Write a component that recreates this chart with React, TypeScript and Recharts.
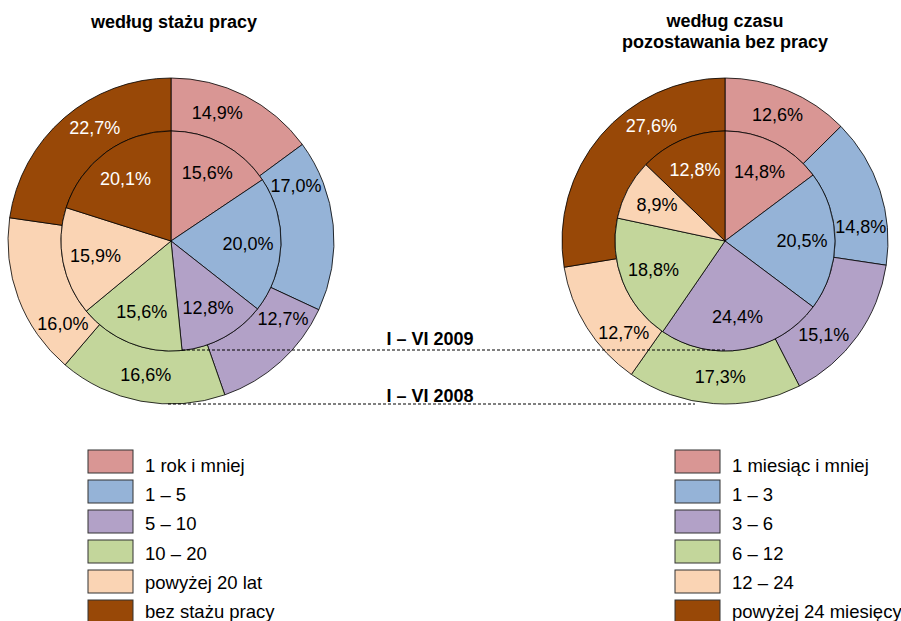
import { PieChart, Pie, Cell } from "recharts";

// categories
const stazCategories = ["1 rok i mniej", "1 – 5", "5 – 10", "10 – 20", "powyżej 20 lat", "bez stażu pracy"];
const czasCategories = ["1 miesiąc i mniej", "1 – 3", "3 – 6", "6 – 12", "12 – 24", "powyżej 24 miesięcy"];

// inner ring = I–VI 2009, outer ring = I–VI 2008
const staz2009 = [15.6, 20.0, 12.8, 15.6, 15.9, 20.1];
const staz2008 = [14.9, 17.0, 12.7, 16.6, 16.0, 22.7];
const czas2009 = [14.8, 20.5, 24.4, 18.8, 8.9, 12.8];
const czas2008 = [12.6, 14.8, 15.1, 17.3, 12.7, 27.6];

const colors = ["#D99694", "#95B3D7", "#B2A1C7", "#C3D69B", "#FAD4B4", "#984807"];

// "best fit" style nudges of outer-ring labels (degrees, clockwise)
const stazOuterShift = [-7, -18, -13, 0, -17, 7];
const czasOuterShift = [0, 12, 8, -2, -10, 17];

const FONT = "Arial, 'Liberation Sans', sans-serif";
const RAD = Math.PI / 180;

const toRows = (names: string[], values: number[]) =>
  names.map((name, i) => ({ name, value: values[i] }));

const fmt = (v: number) => v.toFixed(1).replace(".", ",") + "%";

function makeLabel(ring: "inner" | "outer", shift?: number[]) {
  return (props: any) => {
    const { cx, cy, midAngle, innerRadius, outerRadius, value, index } = props;
    const r = ring === "inner" ? outerRadius * 0.7 : (innerRadius + outerRadius) / 2;
    const a = midAngle - (shift ? shift[index] : 0);
    const x = cx + r * Math.cos(-a * RAD);
    const y = cy + r * Math.sin(-a * RAD);
    return (
      <text
        x={x}
        y={y}
        textAnchor="middle"
        dominantBaseline="central"
        fill={index === 5 ? "#ffffff" : "#000000"}
        fontSize={18}
        fontFamily={FONT}
      >
        {fmt(value)}
      </text>
    );
  };
}

function Legend({ x, items }: { x: number; items: string[] }) {
  return (
    <g>
      {items.map((name, i) => (
        <g key={name}>
          <rect x={x} y={450 + i * 30} width={45} height={23} fill={colors[i]} stroke="#333" strokeWidth={1} />
          <text x={x + 57} y={472 + i * 29.2} fontSize={18.5} fontFamily={FONT} fill="#000">
            {name}
          </text>
        </g>
      ))}
    </g>
  );
}

export default function App() {
  const left = { cx: 171, cy: 241 };
  const right = { cx: 725, cy: 241 };
  return (
    <div style={{ position: "relative", width: 901, height: 621, background: "#fff", overflow: "hidden" }}>
      <style>{`body{margin:0}`}</style>
      <div style={{ position: "absolute", left: 0, top: 0 }}>
        <PieChart width={901} height={621} margin={{ top: 0, right: 0, bottom: 0, left: 0 }}>
          <Pie
            data={toRows(stazCategories, staz2008)}
            dataKey="value"
            cx={left.cx}
            cy={left.cy}
            innerRadius={110}
            outerRadius={163}
            startAngle={90}
            endAngle={-270}
            stroke="#000"
            strokeWidth={0.8}
            label={makeLabel("outer", stazOuterShift)}
            labelLine={false}
            isAnimationActive={false}
          >
            {staz2008.map((_, i) => <Cell key={i} fill={colors[i]} />)}
          </Pie>
          <Pie
            data={toRows(stazCategories, staz2009)}
            dataKey="value"
            cx={left.cx}
            cy={left.cy}
            outerRadius={110}
            startAngle={90}
            endAngle={-270}
            stroke="#000"
            strokeWidth={0.8}
            label={makeLabel("inner")}
            labelLine={false}
            isAnimationActive={false}
          >
            {staz2009.map((_, i) => <Cell key={i} fill={colors[i]} />)}
          </Pie>
          <Pie
            data={toRows(czasCategories, czas2008)}
            dataKey="value"
            cx={right.cx}
            cy={right.cy}
            innerRadius={110}
            outerRadius={163}
            startAngle={90}
            endAngle={-270}
            stroke="#000"
            strokeWidth={0.8}
            label={makeLabel("outer", czasOuterShift)}
            labelLine={false}
            isAnimationActive={false}
          >
            {czas2008.map((_, i) => <Cell key={i} fill={colors[i]} />)}
          </Pie>
          <Pie
            data={toRows(czasCategories, czas2009)}
            dataKey="value"
            cx={right.cx}
            cy={right.cy}
            outerRadius={110}
            startAngle={90}
            endAngle={-270}
            stroke="#000"
            strokeWidth={0.8}
            label={makeLabel("inner")}
            labelLine={false}
            isAnimationActive={false}
          >
            {czas2009.map((_, i) => <Cell key={i} fill={colors[i]} />)}
          </Pie>
        </PieChart>
      </div>
      <svg width={901} height={621} style={{ position: "absolute", left: 0, top: 0, pointerEvents: "none" }}>
        <g fontFamily={FONT} fontWeight="bold" fontSize={18} fill="#000" textAnchor="middle">
          <text x={174} y={28}>według stażu pracy</text>
          <text x={725} y={27}>według czasu</text>
          <text x={725} y={48}>pozostawania bez pracy</text>
          <text x={430} y={345}>I – VI 2009</text>
          <text x={430} y={402}>I – VI 2008</text>
        </g>
        <line x1={182} y1={350} x2={725} y2={350} stroke="#000" strokeWidth={1} strokeDasharray="3 2" />
        <line x1={168} y1={404} x2={695} y2={404} stroke="#000" strokeWidth={1} strokeDasharray="3 2" />
        <Legend x={88} items={stazCategories} />
        <Legend x={675} items={czasCategories} />
      </svg>
    </div>
  );
}
